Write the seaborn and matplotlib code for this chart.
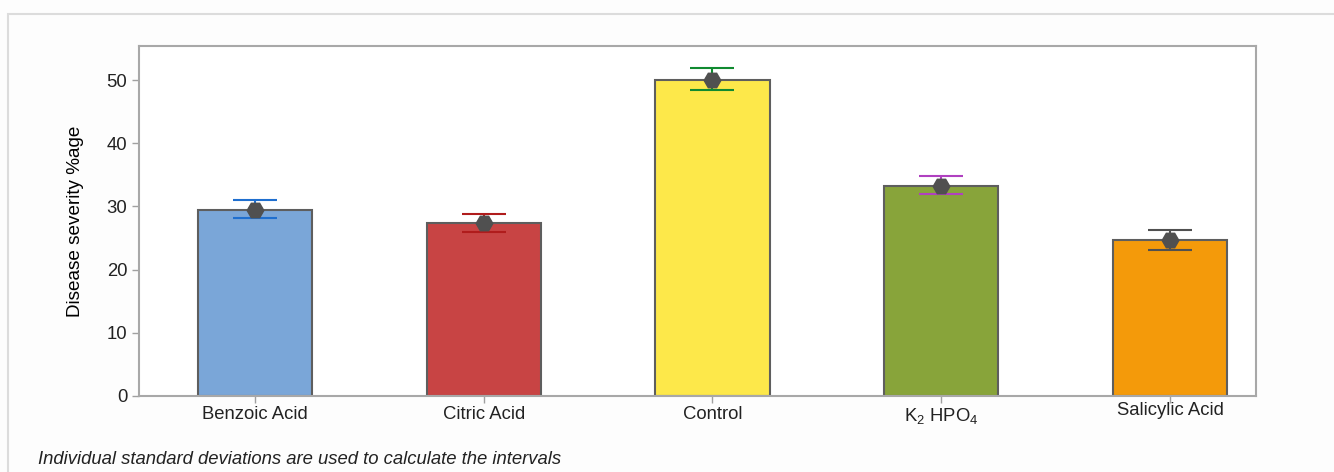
import matplotlib
matplotlib.use("Agg")
import matplotlib.pyplot as plt
import matplotlib.transforms as mtransforms
from matplotlib.patches import Rectangle
import seaborn as sns
import pandas as pd

categories = ["Benzoic Acid", "Citric Acid", "Control", "K$_2$ HPO$_4$", "Salicylic Acid"]
means = [29.5, 27.4, 50.0, 33.3, 24.7]
lower = [28.2, 25.9, 48.4, 32.0, 23.1]
upper = [31.0, 28.8, 51.9, 34.8, 26.3]
bar_colors = ["#7aa6d8", "#c84444", "#fde84a", "#88a43a", "#f49a0a"]
err_colors = ["#1f6fcf", "#b01c1c", "#108a30", "#b040c0", "#505050"]

sns.set_theme(style="white")
plt.rcParams["font.family"] = ["Liberation Sans", "DejaVu Sans"]
plt.rcParams["mathtext.fontset"] = "custom"
plt.rcParams["mathtext.rm"] = "Liberation Sans"

fig = plt.figure(figsize=(13.34, 4.72), dpi=100)
fig.patch.set_facecolor("#fdfdfd")
fig.patches.append(Rectangle((8 / 1334, -0.05), 1.1, (472 - 14) / 472 + 0.05,
                             transform=fig.transFigure, fill=False,
                             edgecolor="#dcdcdc", linewidth=1.5))

ax = fig.add_axes([139 / 1334, (472 - 396) / 472, (1256 - 139) / 1334, (396 - 46) / 472])
ax.set_facecolor("white")

df = pd.DataFrame({"cat": categories, "val": means})
sns.barplot(data=df, x="cat", y="val", hue="cat", palette=bar_colors, legend=False,
            width=0.5, edgecolor="#5e5e5e", linewidth=1.5, saturation=1, ax=ax, zorder=2)

for i, (m, lo, hi, c) in enumerate(zip(means, lower, upper, err_colors)):
    ax.errorbar([i], [m], yerr=[[m - lo], [hi - m]], fmt="none", ecolor=c,
                elinewidth=1.5, capsize=16, capthick=1.5, zorder=3)
    ax.plot([i], [m], marker="H", markersize=12, color="#505050", zorder=4)

ax.set_xlim(-0.507, 4.376)
ax.set_ylim(0, 55.4)
ax.set_yticks([0, 10, 20, 30, 40, 50])
ax.set_xlabel("")
ax.set_ylabel("Disease severity %age", fontsize=13.6, color="black")
ax.yaxis.set_label_coords(-0.049, 0.5)
ax.tick_params(axis="both", which="both", labelsize=13.3, colors="#a0a0a0",
               labelcolor="#222222", length=5, width=1, direction="out",
               left=True, bottom=True)
ax.tick_params(axis="x", pad=2)
for s in ax.spines.values():
    s.set_color("#a8a8a8")
    s.set_linewidth(1.5)

labels = ax.get_xticklabels()
labels[-1].set_transform(labels[-1].get_transform() +
                         mtransforms.ScaledTranslation(0, 3 / 72, fig.dpi_scale_trans))

fig.text(38 / 1334, 1 - 460 / 472, "Individual standard deviations are used to calculate the intervals",
         fontsize=13.3, style="italic", color="#222222", va="center", ha="left")

fig.savefig("out.png", dpi=100, facecolor=fig.get_facecolor())
